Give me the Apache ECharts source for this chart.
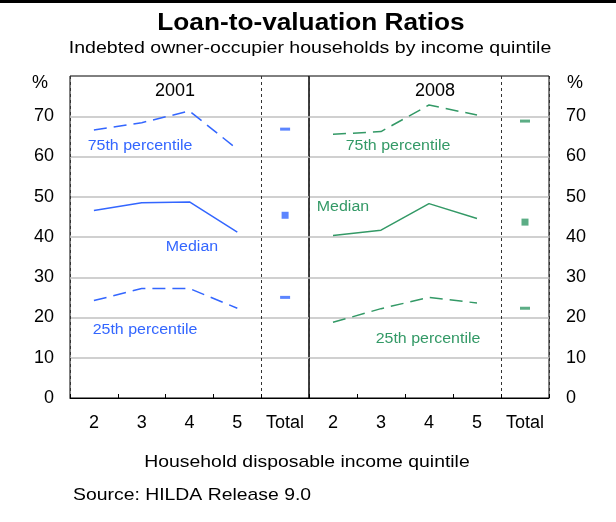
<!DOCTYPE html>
<html>
<head>
    <meta charset="UTF-8">
    <title>Loan-to-valuation Ratios</title>
    <script src="https://cdn.jsdelivr.net/npm/echarts@6/dist/echarts.min.js"></script>
    <style>
        html, body { margin: 0; padding: 0; background: #fff; }
        #main { width: 616px; height: 522px; }
    </style>
</head>
<body>
<div id="main"></div>
<script type="text/javascript">
    // categories on each panel
    var quintiles = ['2', '3', '4', '5', 'Total'];
    var yTicks = [0, 10, 20, 30, 40, 50, 60, 70];

    // 2001, quintiles 2-5, then the Total value
    var p75_2001 = [66.6, 68.4, 71.3, 61.8];
    var med_2001 = [46.6, 48.5, 48.7, 41.2];
    var p25_2001 = [24.2, 27.2, 27.2, 22.3];
    var total_2001 = [66.8, 45.4, 25.0];   // 75th, median, 25th

    // 2008
    var p75_2008 = [65.5, 66.2, 72.8, 70.3];
    var med_2008 = [40.4, 41.7, 48.3, 44.6];
    var p25_2008 = [18.8, 22.2, 25.0, 23.6];
    var total_2008 = [68.8, 43.7, 22.3];

    var blue = '#3366ff';
    var green = '#339966';
    var font = '"Liberation Sans", Arial, sans-serif';

    var chart = echarts.init(document.getElementById('main'));

    function panelSeries(i, color, p75, med, p25, totals) {
        var dash = [13, 7];
        return [
            {
                type: 'line', xAxisIndex: i, yAxisIndex: i, data: p75,
                symbol: 'none', lineStyle: {color: color, width: 1.5, type: dash}
            },
            {
                type: 'line', xAxisIndex: i, yAxisIndex: i, data: med,
                symbol: 'none', lineStyle: {color: color, width: 1.5}
            },
            {
                type: 'line', xAxisIndex: i, yAxisIndex: i, data: p25,
                symbol: 'none', lineStyle: {color: color, width: 1.5, type: dash}
            },
            {
                type: 'scatter', xAxisIndex: i, yAxisIndex: i,
                symbol: 'rect', symbolSize: [10, 3], itemStyle: {color: color},
                data: [['Total', totals[0]], ['Total', totals[2]]]
            },
            {
                type: 'scatter', xAxisIndex: i, yAxisIndex: i,
                symbol: 'rect', symbolSize: 7, itemStyle: {color: color},
                data: [['Total', totals[1]]]
            }
        ];
    }

    function xAxisFor(i) {
        return {
            type: 'category', gridIndex: i, data: quintiles,
            axisLine: {lineStyle: {color: '#000', width: 1}},
            axisTick: {show: true, inside: true, length: 4, interval: 0, lineStyle: {color: '#000'}},
            axisLabel: {color: '#000', fontSize: 18, fontFamily: font, margin: 16, interval: 0},
            splitLine: {
                show: true,
                interval: function (idx) { return idx === 0 || idx === 4; },
                lineStyle: {color: '#333', type: [3, 3], width: 1}
            }
        };
    }

    function yAxisFor(i, pos, margin) {
        return {
            type: 'value', gridIndex: i, position: pos,
            min: 0, max: 80, interval: 10,
            axisLine: {show: false},
            axisTick: {show: false},
            axisLabel: {
                color: '#000', fontSize: 18, fontFamily: font, margin: margin,
                formatter: function (v) { return yTicks.indexOf(v) >= 0 ? String(v) : ''; }
            },
            splitLine: {
                show: true, showMinLine: false, showMaxLine: false,
                lineStyle: {color: '#c0c0c0', width: 1.5}
            }
        };
    }

    function txt(s, x, y, size, color, opts) {
        opts = opts || {};
        return {
            type: 'text', x: x, y: y, scaleX: opts.scaleX || 1, z: 100,
            style: {
                text: s, fill: color, fontSize: size, fontFamily: font,
                fontWeight: opts.bold ? 'bold' : 'normal',
                textAlign: opts.align || 'center', textVerticalAlign: 'middle'
            }
        };
    }

    var option = {
        animation: false,
        backgroundColor: '#fff',
        grid: [
            {left: 70, top: 76, width: 239, height: 322, show: true, borderColor: '#000', borderWidth: 1},
            {left: 309, top: 76, width: 240, height: 322, show: true, borderColor: '#000', borderWidth: 1}
        ],
        xAxis: [xAxisFor(0), xAxisFor(1)],
        yAxis: [yAxisFor(0, 'left', 16), yAxisFor(1, 'right', 17)],
        series: panelSeries(0, blue, p75_2001, med_2001, p25_2001, total_2001)
            .concat(panelSeries(1, green, p75_2008, med_2008, p25_2008, total_2008)),
        graphic: [
            {type: 'rect', shape: {x: 0, y: 0, width: 616, height: 3}, style: {fill: '#000'}},
            txt('Loan-to-valuation Ratios', 311, 24, 23, '#000', {bold: true, scaleX: 1.14}),
            txt('Indebted owner-occupier households by income quintile', 310, 48, 17, '#000', {scaleX: 1.15}),
            txt('%', 40, 83, 18, '#000'),
            txt('%', 575, 83, 18, '#000'),
            txt('2001', 175, 91, 18, '#000'),
            txt('2008', 435, 91, 18, '#000'),
            txt('75th percentile', 140, 146, 14, blue, {scaleX: 1.14}),
            txt('Median', 192, 247, 14, blue, {scaleX: 1.14}),
            txt('25th percentile', 145, 330, 14, blue, {scaleX: 1.14}),
            txt('75th percentile', 398, 146, 14, green, {scaleX: 1.14}),
            txt('Median', 343, 207, 14, green, {scaleX: 1.14}),
            txt('25th percentile', 428, 339, 14, green, {scaleX: 1.14}),
            txt('Household disposable income quintile', 307, 462, 17, '#000', {scaleX: 1.14}),
            txt('Source: HILDA Release 9.0', 73, 495, 17, '#000', {align: 'left', scaleX: 1.14})
        ]
    };
    chart.setOption(option);
</script>
</body>
</html>
